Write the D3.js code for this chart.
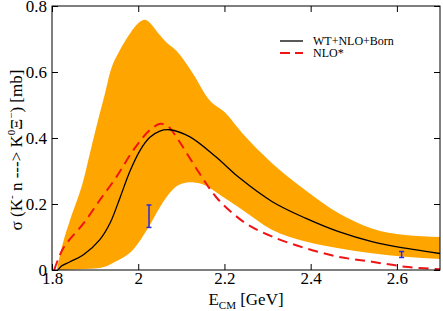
<!doctype html>
<html lang="en">
<head>
  <meta charset="utf-8">
  <title>K- n -> K0 Xi- cross section</title>
  <style>
    body { margin: 0; background: #fff; }
    svg { display: block; }
    .frame { fill: none; stroke: #000; stroke-width: 1; }
  </style>
</head>
<body>
  <div id="chart"></div>
  <script src="https://cdn.jsdelivr.net/npm/d3@7"></script>
  <script>
// band edges [E_CM GeV, sigma mb]
var bandUpper = [
  [1.811, 0], [1.825, 0.08], [1.842, 0.152], [1.873, 0.273], [1.888, 0.354],
  [1.907, 0.455], [1.922, 0.53], [1.935, 0.60], [1.957, 0.665], [1.981, 0.717],
  [2.000, 0.748], [2.016, 0.758], [2.030, 0.745], [2.048, 0.715], [2.065, 0.690],
  [2.088, 0.665], [2.126, 0.597], [2.165, 0.515], [2.203, 0.475], [2.241, 0.415],
  [2.311, 0.323], [2.388, 0.242], [2.465, 0.172], [2.542, 0.126], [2.619, 0.106],
  [2.700, 0.100]
];
var bandLower = [
  [1.811, 0], [1.872, 0.003], [1.911, 0.006], [1.950, 0.027], [1.989, 0.063],
  [2.020, 0.121], [2.051, 0.192], [2.074, 0.235], [2.095, 0.258], [2.119, 0.266],
  [2.149, 0.260], [2.196, 0.222], [2.242, 0.182], [2.311, 0.121], [2.388, 0.086],
  [2.465, 0.066], [2.542, 0.051], [2.619, 0.040], [2.700, 0.033]
];
// WT+NLO+Born
var fullModel = [
  [1.814, 0], [1.822, 0.012], [1.842, 0.025], [1.873, 0.046], [1.911, 0.092],
  [1.935, 0.143], [1.958, 0.220], [1.981, 0.300], [2.004, 0.362], [2.027, 0.402],
  [2.050, 0.421], [2.073, 0.425], [2.119, 0.404], [2.180, 0.343], [2.234, 0.280],
  [2.311, 0.207], [2.388, 0.157], [2.465, 0.116], [2.542, 0.086], [2.619, 0.066],
  [2.700, 0.050]
];
// NLO*
var nloOnly = [
  [1.805, 0], [1.815, 0.035], [1.826, 0.066], [1.842, 0.094], [1.873, 0.141],
  [1.911, 0.212], [1.950, 0.283], [1.989, 0.364], [2.027, 0.424], [2.052, 0.443],
  [2.070, 0.434], [2.088, 0.404], [2.103, 0.374], [2.142, 0.293], [2.180, 0.222],
  [2.219, 0.172], [2.257, 0.135], [2.311, 0.101], [2.388, 0.066], [2.465, 0.040],
  [2.542, 0.025], [2.619, 0.010], [2.700, 0.002]
];
// data points: E, sigma, error
var dataE = [2.025, 2.611];
var dataSigma = [0.163, 0.047];
var dataErr = [0.034, 0.009];

var xTicks = [1.8, 2.0, 2.2, 2.4, 2.6];
var xTickLabels = ["1.8", "2", "2.2", "2.4", "2.6"];
var yTicks = [0, 0.2, 0.4, 0.6, 0.8];
var yTickLabels = ["0", "0.2", "0.4", "0.6", "0.8"];
var legendNames = ["WT+NLO+Born", "NLO*"];

(function() {
  var width = 443, height = 311;
  var left = 52, right = 440, top = 6, bottom = 270;
  var serif = '"Liberation Serif", "Times New Roman", serif';

  var x = d3.scaleLinear().domain([1.8, 2.7]).range([left, right]);
  var y = d3.scaleLinear().domain([0, 0.8]).range([bottom, top]);

  var svg = d3.select("#chart").append("svg")
      .attr("width", width)
      .attr("height", height)
      .style("font-family", serif);

  svg.append("clipPath").attr("id", "plot-clip")
    .append("rect")
      .attr("x", left).attr("y", top)
      .attr("width", right - left).attr("height", bottom - top);

  var plot = svg.append("g").attr("clip-path", "url(#plot-clip)");

  var line = d3.line()
      .x(function(d) { return x(d[0]); })
      .y(function(d) { return y(d[1]); })
      .curve(d3.curveCatmullRom.alpha(0.5));
  var edge = d3.line()
      .x(function(d) { return x(d[0]); })
      .y(function(d) { return y(d[1]); })
      .curve(d3.curveMonotoneX);

  // orange band: upper edge forward, lower edge back
  var lowerBack = bandLower.slice().reverse();
  plot.append("path")
      .attr("d", edge(bandUpper) + "L" + edge(lowerBack).slice(1) + "Z")
      .attr("fill", "#ffa500")
      .attr("stroke", "none");

  plot.append("path")
      .attr("d", line(nloOnly))
      .attr("fill", "none")
      .attr("stroke", "#f01414")
      .attr("stroke-width", 2)
      .attr("stroke-dasharray", "10,6");

  plot.append("path")
      .attr("d", line(fullModel))
      .attr("fill", "none")
      .attr("stroke", "#000")
      .attr("stroke-width", 1.3);

  // error bars
  var bars = plot.selectAll(".ebar").data(dataE).enter().append("g").attr("class", "ebar")
      .attr("stroke", "#2a2ad8").attr("stroke-width", 1.5);
  bars.append("line")
      .attr("x1", function(d) { return x(d); }).attr("x2", function(d) { return x(d); })
      .attr("y1", function(d, i) { return y(dataSigma[i] + dataErr[i]); })
      .attr("y2", function(d, i) { return y(dataSigma[i] - dataErr[i]); });
  bars.append("line")
      .attr("x1", function(d) { return x(d) - 2.5; }).attr("x2", function(d) { return x(d) + 2.5; })
      .attr("y1", function(d, i) { return y(dataSigma[i] + dataErr[i]); })
      .attr("y2", function(d, i) { return y(dataSigma[i] + dataErr[i]); });
  bars.append("line")
      .attr("x1", function(d) { return x(d) - 2.5; }).attr("x2", function(d) { return x(d) + 2.5; })
      .attr("y1", function(d, i) { return y(dataSigma[i] - dataErr[i]); })
      .attr("y2", function(d, i) { return y(dataSigma[i] - dataErr[i]); });

  // axes, ticks inward and mirrored
  var tl = 6;
  var clean = function(g) {
    g.attr("font-family", null).attr("font-size", null);
    g.select(".domain").remove();
    g.selectAll("text").style("font-family", serif).style("font-size", "17px").attr("fill", "#000");
  };
  svg.append("g").attr("transform", "translate(0," + bottom + ")")
      .call(d3.axisBottom(x).tickValues(xTicks).tickSizeInner(-tl).tickSizeOuter(0)
        .tickFormat(function(d, i) { return xTickLabels[i]; }))
      .call(clean)
      .call(function(g) { g.selectAll("text").attr("y", 2); });
  svg.append("g").attr("transform", "translate(0," + top + ")")
      .call(d3.axisTop(x).tickValues(xTicks).tickSizeInner(-tl).tickSizeOuter(0).tickFormat(""))
      .call(clean);
  svg.append("g").attr("transform", "translate(" + left + ",0)")
      .call(d3.axisLeft(y).tickValues(yTicks).tickSizeInner(-tl).tickSizeOuter(0)
        .tickFormat(function(d, i) { return yTickLabels[i]; }))
      .call(clean)
      .call(function(g) { g.selectAll("text").attr("x", -5); });
  svg.append("g").attr("transform", "translate(" + right + ",0)")
      .call(d3.axisRight(y).tickValues(yTicks).tickSizeInner(-tl).tickSizeOuter(0).tickFormat(""))
      .call(clean);

  svg.append("rect").attr("class", "frame")
      .attr("x", left).attr("y", top)
      .attr("width", right - left).attr("height", bottom - top);

  // x title
  var xt = svg.append("text")
      .style("font-family", serif).style("font-size", "17px")
      .attr("x", (left + right) / 2).attr("y", 305)
      .attr("text-anchor", "middle");
  xt.append("tspan").text("E");
  xt.append("tspan").style("font-size", "11px").attr("dy", 4).text("CM");
  xt.append("tspan").attr("dy", -4).text(" [GeV]");

  // y title
  var yt = svg.append("text")
      .style("font-family", serif).style("font-size", "17px")
      .attr("transform", "translate(22,150) rotate(-90)")
      .attr("text-anchor", "middle");
  yt.append("tspan").text("σ (K");
  yt.append("tspan").style("font-size", "11px").attr("dy", -7).text("-");
  yt.append("tspan").attr("dy", 7).text(" n ---> K");
  yt.append("tspan").style("font-size", "11px").attr("dy", -7).text("0");
  yt.append("tspan").attr("dy", 7).text("Ξ");
  yt.append("tspan").style("font-size", "11px").attr("dy", -7).text("−");
  yt.append("tspan").attr("dy", 7).text(") [mb]");

  // legend
  var lg = svg.append("g");
  var ly = [41, 53];
  lg.append("line").attr("x1", 280).attr("x2", 303).attr("y1", ly[0]).attr("y2", ly[0])
      .attr("stroke", "#000").attr("stroke-width", 1.3);
  lg.append("line").attr("x1", 280).attr("x2", 303).attr("y1", ly[1]).attr("y2", ly[1])
      .attr("stroke", "#f01414").attr("stroke-width", 2).attr("stroke-dasharray", "10,5");
  lg.selectAll("text.legend").data(legendNames).enter().append("text")
      .attr("class", "legend")
      .style("font-family", serif).style("font-size", "12px")
      .attr("x", 313).attr("y", function(d, i) { return ly[i] + 4; })
      .text(function(d) { return d; });
})();
  </script>
</body>
</html>
